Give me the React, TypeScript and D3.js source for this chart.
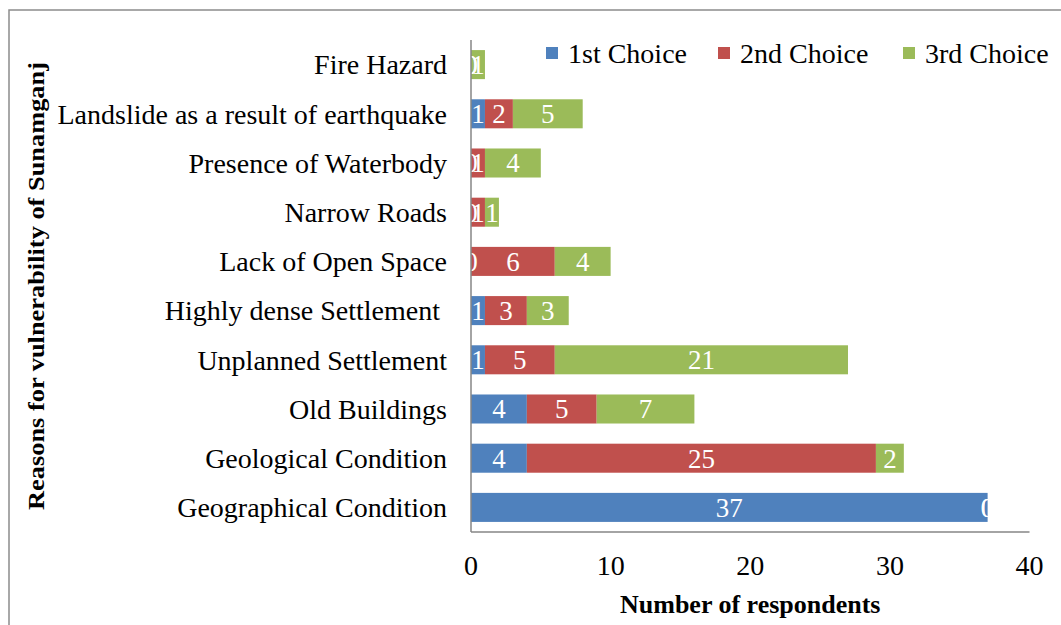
import React from "react";
import * as d3 from "d3";

const categories = [
  "Geographical Condition",
  "Geological Condition",
  "Old Buildings",
  "Unplanned Settlement",
  "Highly dense Settlement ",
  "Lack of Open Space",
  "Narrow Roads",
  "Presence of Waterbody",
  "Landslide as a result of earthquake",
  "Fire Hazard",
];
const firstChoice = [37, 4, 4, 1, 1, 0, 0, 0, 1, 0];
const secondChoice = [0, 25, 5, 5, 3, 6, 1, 1, 2, 0];
const thirdChoice = [0, 2, 7, 21, 3, 4, 1, 4, 5, 1];
const seriesNames = ["1st Choice", "2nd Choice", "3rd Choice"];
const seriesColors = ["#4F81BD", "#C0504D", "#9BBB59"];
const xTicks = [0, 10, 20, 30, 40];

const W = 1061;
const H = 625;
const left = 471;
const right = 1029.5;
const top = 40;
const bottom = 532;
const FONT = "'Liberation Serif', 'Times New Roman', serif";

export default function App() {
  const x = d3.scaleLinear().domain([0, 40]).range([left, right]);
  const y = d3
    .scaleBand<string>()
    .domain([...categories].reverse())
    .range([top, bottom])
    .paddingInner(0.41)
    .paddingOuter(0.205);

  const rows = categories.map((c, i) => ({
    cat: c,
    "1st Choice": firstChoice[i],
    "2nd Choice": secondChoice[i],
    "3rd Choice": thirdChoice[i],
  }));
  const stack = d3.stack<any>().keys(seriesNames)(rows);

  const legendX = [546, 718, 903];

  return (
    <svg
      width={W}
      height={H}
      style={{ position: "absolute", left: 0, top: 0, background: "#fff" }}
      fontFamily={FONT}
    >
      <rect x={0} y={0} width={W} height={H} fill="#fff" />
      <rect x={9} y={10} width={W + 50} height={H + 50} fill="none" stroke="#8c8c8c" strokeWidth={1.5} />

      {stack.map((s, si) => (
        <g key={s.key}>
          {s.map((d, i) => (
            <rect
              key={i}
              x={x(d[0])}
              y={y(rows[i].cat)}
              width={Math.max(0, x(d[1]) - x(d[0]))}
              height={y.bandwidth()}
              fill={seriesColors[si]}
            />
          ))}
        </g>
      ))}

      {stack.map((s, si) => (
        <g key={"l" + s.key}>
          {s.map((d, i) => (
            <text
              key={i}
              x={(x(d[0]) + x(d[1])) / 2}
              y={(y(rows[i].cat) as number) + y.bandwidth() / 2}
              dy="0.35em"
              textAnchor="middle"
              fill="#fff"
              fontSize={27}
            >
              {d[1] - d[0]}
            </text>
          ))}
        </g>
      ))}

      <line x1={left} x2={left} y1={top} y2={bottom} stroke="#868686" strokeWidth={1.5} />
      <line x1={left} x2={right} y1={bottom} y2={bottom} stroke="#868686" strokeWidth={1.5} />

      {categories.map((c) => (
        <text
          key={c}
          x={447}
          y={(y(c) as number) + y.bandwidth() / 2}
          dy="0.35em"
          textAnchor="end"
          fontSize={28}
          fill="#000"
          style={{ whiteSpace: "pre" }}
        >
          {c}
        </text>
      ))}

      {xTicks.map((t) => (
        <text key={t} x={x(t)} y={565} dy="0.35em" textAnchor="middle" fontSize={28} fill="#000">
          {t}
        </text>
      ))}

      <text x={(left + right) / 2} y={604} dy="0.35em" textAnchor="middle" fontSize={26} fontWeight="bold" fill="#000">
        Number of respondents
      </text>

      <text
        transform="translate(36,286) rotate(-90)"
        textAnchor="middle"
        dy="0.35em"
        fontSize={24}
        fontWeight="bold"
        fill="#000"
        textLength={448}
        lengthAdjust="spacingAndGlyphs"
      >
        Reasons for vulnerability of Sunamganj
      </text>

      {seriesNames.map((n, i) => (
        <g key={n}>
          <rect x={legendX[i]} y={47} width={12} height={12} fill={seriesColors[i]} />
          <text x={legendX[i] + 22} y={53} dy="0.35em" fontSize={28} fill="#000">
            {n}
          </text>
        </g>
      ))}
    </svg>
  );
}
